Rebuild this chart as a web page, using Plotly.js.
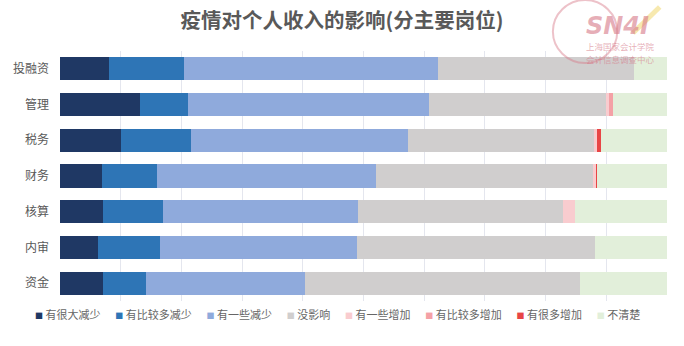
<!DOCTYPE html>
<html><head><meta charset="utf-8">
<script src="https://cdn.plot.ly/plotly-3.0.1.min.js"></script>
<style>html,body{margin:0;padding:0;background:#fff;}#chart{width:684px;height:346px;}</style>
</head><body><div id="chart"></div>
<script>
const categories = ["投融资","管理","税务","财务","核算","内审","资金"];
const seriesNames = ["有很大减少","有比较多减少","有一些减少","没影响","有一些增加","有比较多增加","有很多增加","不清楚"];
const seriesColors = ["#1f3864","#2e75b6","#8faadc","#d0cece","#f9cccf","#f4a1a6","#e84545","#e2efda"];
const s1 = [8.1, 13.2, 10.0, 7.0, 7.1, 6.3, 7.1];
const s2 = [12.3, 7.9, 11.6, 9.0, 9.8, 10.1, 7.1];
const s3 = [41.8, 39.7, 35.8, 36.1, 32.2, 32.6, 26.2];
const s4 = [32.4, 29.1, 30.6, 35.7, 33.7, 39.1, 45.2];
const s5 = [0, 0.6, 0.4, 0.5, 2.0, 0, 0];
const s6 = [0, 0.6, 0, 0, 0, 0, 0];
const s7 = [0, 0, 0.8, 0.2, 0, 0, 0];
const s8 = [5.4, 8.9, 10.8, 11.5, 15.2, 11.9, 14.4];
const allSeries = [s1,s2,s3,s4,s5,s6,s7,s8];

const traces = allSeries.map((vals,i)=>({
  type:'bar', orientation:'h', name:seriesNames[i], x:vals, y:categories,
  marker:{color:seriesColors[i], line:{width:0}}, showlegend:false, hoverinfo:'x+name'
}));

const legendText = seriesNames.map((n,i)=>
  '<span style="color:'+seriesColors[i]+';font-size:8px">■</span>&nbsp;'+n).join('&nbsp;&nbsp;&nbsp;&nbsp;&nbsp;&nbsp;');

const logoColor = 'rgba(214,120,135,0.6)';
const layout = {
  width:684, height:346,
  margin:{l:60, r:17, t:51, b:45},
  paper_bgcolor:'#ffffff', plot_bgcolor:'#ffffff',
  barmode:'stack', bargap:0.35,
  font:{family:'"Noto Sans CJK SC", "Noto Sans", sans-serif', color:'#595959', size:12},
  title:{text:'<b>疫情对个人收入的影响(分主要岗位)</b>', x:0.5, xanchor:'center', y:0.94, yanchor:'middle',
    font:{size:20.5, color:'#595959', family:'"Noto Sans CJK SC", sans-serif'}},
  xaxis:{range:[0,100], showticklabels:false, showgrid:true, gridcolor:'#e4e6ee', gridwidth:1,
    dtick:10, zeroline:false, showline:false, fixedrange:true},
  yaxis:{autorange:'reversed', type:'category', showgrid:false, showline:false, ticks:'',
    ticklabelstandoff:10, tickfont:{size:12, color:'#595959'}},
  annotations:[
    {xref:'paper', yref:'paper', x:-0.045, y:-0.05, xanchor:'left', yanchor:'middle', showarrow:false,
     text:legendText, font:{size:11, color:'#666666'}},
    {xref:'paper', yref:'paper', x:0.918, y:1.1, xanchor:'center', yanchor:'middle', showarrow:false,
     text:'<b><i>SN4I</i></b>', font:{size:24, color:logoColor, family:'"DejaVu Sans", sans-serif'}},
    {xref:'paper', yref:'paper', x:0.924, y:1.02, xanchor:'center', yanchor:'middle', showarrow:false,
     text:'上海国家会计学院', font:{size:8.5, color:logoColor}},
    {xref:'paper', yref:'paper', x:0.924, y:0.968, xanchor:'center', yanchor:'middle', showarrow:false,
     text:'会计信息调查中心', font:{size:8.5, color:logoColor}}
  ],
  shapes:[
    {type:'circle', xref:'paper', yref:'paper', x0:0.812, x1:0.918, y0:0.952, y1:1.204,
     line:{color:'rgba(214,120,135,0.45)', width:2}},
    {type:'line', xref:'paper', yref:'paper', x0:0.944, x1:0.988, y0:1.072, y1:1.176,
     line:{color:'rgba(240,215,110,0.55)', width:5}}
  ]
};
Plotly.newPlot('chart', traces, layout, {displayModeBar:false, staticPlot:true});
</script></body></html>
